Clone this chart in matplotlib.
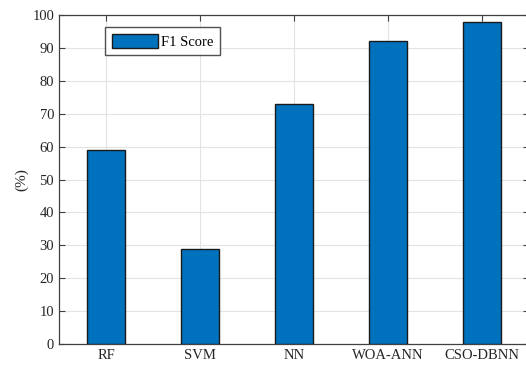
import matplotlib
matplotlib.use("Agg")
import matplotlib.pyplot as plt

categories = ["RF", "SVM", "NN", "WOA-ANN", "CSO-DBNN"]
f1_scores = [59, 29, 73, 92, 98]
yticks = list(range(0, 101, 10))

plt.rcParams['font.family'] = ['Liberation Serif', 'DejaVu Serif']

fig = plt.figure(figsize=(5.26, 3.70), dpi=100)
W, H = 526, 370
left, right, top, bottom = 59, 529, 15, 344
ax = fig.add_axes([left / W, 1 - bottom / H, (right - left) / W, (bottom - top) / H])

x = list(range(1, len(categories) + 1))
ax.bar(x, f1_scores, width=0.4, color="#0072BD", edgecolor="#1a1a1a", linewidth=1.0,
       label="F1 Score", zorder=3)

ax.set_xlim(0.5, len(categories) + 0.5)
ax.set_ylim(0, 100)
ax.set_xticks(x)
ax.set_xticklabels(categories)
ax.set_yticks(yticks)
ax.grid(True, color="#e3e3e3", linewidth=0.8, zorder=0)
ax.set_axisbelow(True)
ax.tick_params(direction="in", top=True, right=True, length=4, width=0.8,
               colors="#404040", labelsize=10.5, labelcolor="#262626")
for s in ax.spines.values():
    s.set_color("#404040")
    s.set_linewidth(0.9)
ax.set_ylabel("(%)", fontsize=11, color="#262626", labelpad=3)

leg = ax.legend(loc="upper left", bbox_to_anchor=((105 - left) / (right - left), (344 - 27) / (bottom - top)),
                fontsize=10.5, frameon=True, fancybox=False, handlelength=3.2, handleheight=1.15,
                borderpad=0.45, handletextpad=0.2, borderaxespad=0)
leg.get_frame().set_edgecolor("#262626")
leg.get_frame().set_linewidth(1.0)

fig.savefig("out.png", dpi=100)
